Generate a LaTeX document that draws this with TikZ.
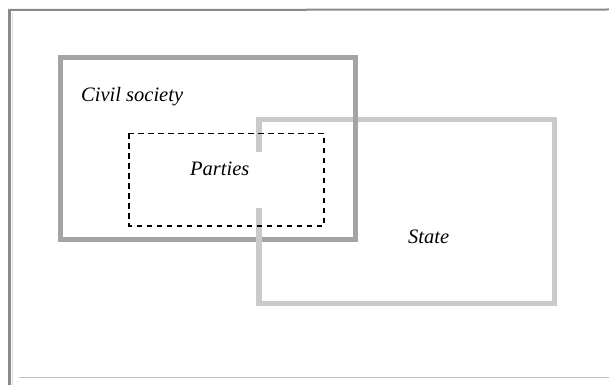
\documentclass[tikz,border=0pt]{standalone}
\usepackage{fontspec}
\setmainfont{Liberation Serif}
\begin{document}
\begin{tikzpicture}[x=1pt,y=-1pt,
  framebar/.style={draw=frameGray,line width=3pt},
  framerule/.style={draw=ruleGray,line width=1pt},
  civilbox/.style={draw=civilGray,line width=5pt,line join=miter},
  statebox/.style={draw=stateGray,line width=5.5pt,line join=miter},
  partybox/.style={draw=black,line width=1.6pt,dash pattern=on 5.5pt off 4.5pt},
  label/.style={anchor=base west,inner sep=0pt,font=\fontsize{20.5}{24}\selectfont\itshape}]
\definecolor{frameGray}{HTML}{8A8A8A}
\definecolor{ruleGray}{HTML}{BDBDBD}
\definecolor{civilGray}{HTML}{A4A4A4}
\definecolor{stateGray}{HTML}{CACACA}
\useasboundingbox[fill=white] (0,0) rectangle (609,385);

% page frame
\coordinate (fTL) at (9.5,9.5);
\coordinate (fBL) at (9.5,385);
\coordinate (fTR) at (609,9.5);
\coordinate (rL) at (19,377);
\coordinate (rR) at (609,377);
\draw[draw=frameGray,line width=2pt] (8,10) -- (fTR);
\draw[framebar] (fTL) -- (fBL);
\draw[draw=black!12,line width=1pt] (12.5,12) -- (12.5,385);
\draw[framerule] (rL) -- (rR);

% state: open on the left where the parties sit
\coordinate (sGapTop) at (258.8,152);
\coordinate (sNW) at (258.8,119.7);
\coordinate (sNE) at (554.5,119.7);
\coordinate (sSE) at (554.5,303.7);
\coordinate (sSW) at (258.8,303.7);
\coordinate (sGapBot) at (258.8,208);
\draw[statebox] (sGapTop) -- (sNW) -- (sNE) -- (sSE) -- (sSW) -- (sGapBot);

% civil society
\coordinate (cNW) at (60.5,57.5);
\coordinate (cSE) at (355.5,239);
\draw[civilbox] (cNW) rectangle (cSE);
% state edge passes over the lower civil border
\draw[statebox] (258.8,232) -- (258.8,246);

% parties
\coordinate (pNW) at (129,133.3);
\coordinate (pSE) at (324,225.7);
\draw[partybox] (pNW) rectangle (pSE);

\node[label] (civil) at (81,101) {Civil society};
\node[label] (parties) at (190,175) {Parties};
\node[label] (state) at (408,243.3) {State};
\end{tikzpicture}
\end{document}
